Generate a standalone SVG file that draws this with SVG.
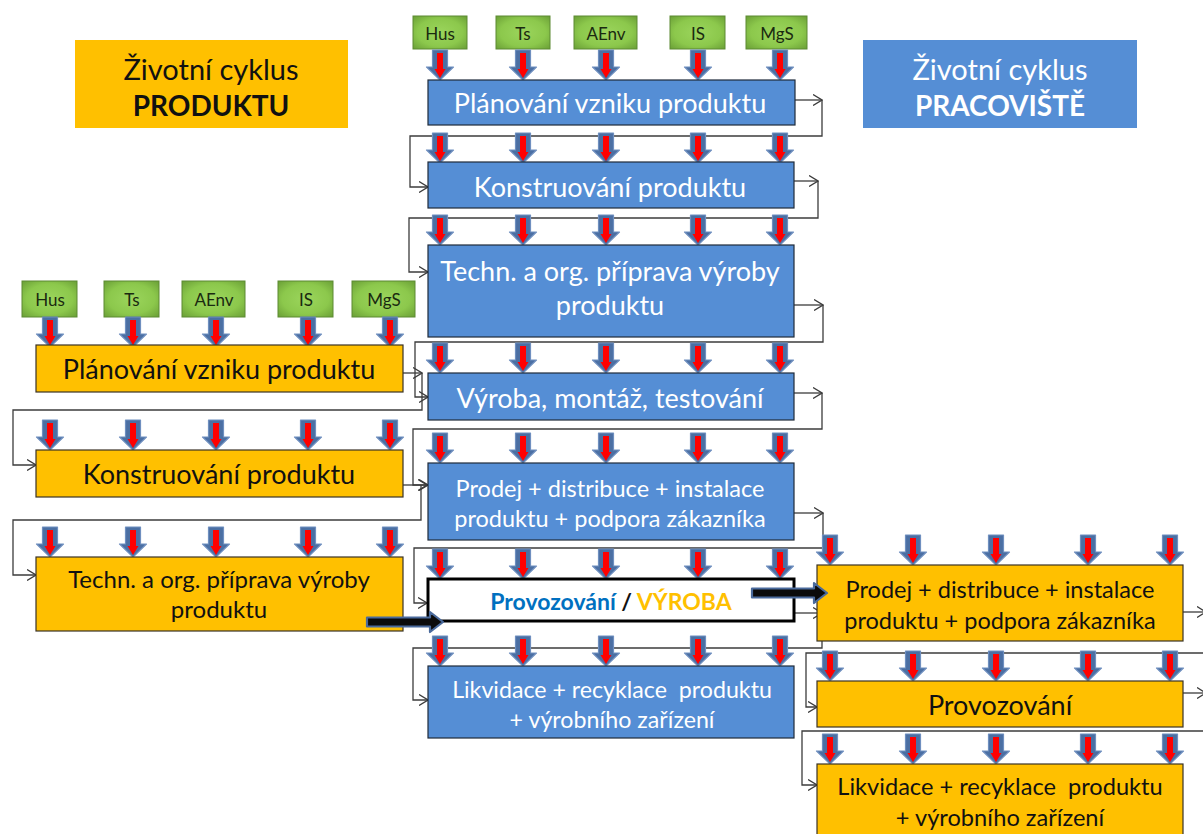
<svg xmlns="http://www.w3.org/2000/svg" width="1203" height="834" viewBox="0 0 1203 834">
  <defs>
    <style>
      .t { font-family: Lato, "Open Sans", "Liberation Sans", sans-serif; text-anchor: middle; dominant-baseline: central; }
      .w { fill: #ffffff; }
      .k { fill: #111111; }
      .blue { fill: #558ed5; stroke: #1f2a3a; stroke-width: 1.2; }
      .orange { fill: #ffc000; stroke: #3a3326; stroke-width: 1.2; }
      .title-o { fill: #ffc000; }
      .title-b { fill: #558ed5; }
      .green { fill: url(#gGreen); stroke: #5d8a33; stroke-width: 1; }
      .gt { font-family: Lato, "Open Sans", "Liberation Sans", sans-serif; font-size: 17px; fill: #1a2a10; text-anchor: middle; dominant-baseline: central; }
      .conn path { fill: none; stroke: #3c3c3c; stroke-width: 1.3; }
      .thick { fill: #0b0b0b; stroke: #4a6a9c; stroke-width: 2.2; stroke-linejoin: round; }
    </style>
    <radialGradient id="gGreen" cx="50%" cy="50%" r="70%">
      <stop offset="0%" stop-color="#9bd55c"/>
      <stop offset="60%" stop-color="#8cc84c"/>
      <stop offset="100%" stop-color="#6a9f36"/>
    </radialGradient>
    <marker id="chev" viewBox="0 0 10 12" markerWidth="10" markerHeight="12" refX="9.5" refY="6" orient="auto" markerUnits="userSpaceOnUse">
      <path d="M0.5,0.5 L9.5,6 L0.5,11.5" fill="none" stroke="#3c3c3c" stroke-width="1.3"/>
    </marker>
    <!-- input arrow: blue block arrow with a red core, origin at top centre -->
    <g id="ba">
      <path d="M-7.5,0 H7.5 V17 H13.5 L0,30 L-13.5,17 H-7.5 Z" fill="#4b6fa3" stroke="#6f8fbf" stroke-width="1.2" stroke-linejoin="round"/>
      <path d="M-3,3 H3 V19 H5.5 L0,28 L-5.5,19 H-3 Z" fill="#ff0000"/>
    </g>
    <g id="row">
      <use href="#ba" x="0" y="0"/>
      <use href="#ba" x="83" y="0"/>
      <use href="#ba" x="166" y="0"/>
      <use href="#ba" x="258" y="0"/>
      <use href="#ba" x="340" y="0"/>
    </g>
  </defs>

  <rect width="1203" height="834" fill="#ffffff"/>

  <!-- title boxes -->
  <g id="title-produkt">
    <rect class="title-o" x="75" y="40" width="273" height="88"/>
    <text class="t k" x="211" y="68" font-size="29">Životní cyklus</text>
    <text class="t k" x="211" y="105" font-size="28" font-weight="bold">PRODUKTU</text>
  </g>
  <g id="title-pracoviste">
    <rect class="title-b" x="863" y="40" width="274" height="88"/>
    <text class="t w" x="1000" y="68" font-size="29">Životní cyklus</text>
    <text class="t w" x="1000" y="105" font-size="28" font-weight="bold">PRACOVIŠTĚ</text>
  </g>

  <!-- connectors -->
  <g id="connectors" class="conn">
    <!-- middle column -->
    <path d="M795,100 H822" marker-end="url(#chev)"/>
    <path d="M822,100 V136 H410 V187 H428" marker-end="url(#chev)"/>
    <path d="M794,181 H818" marker-end="url(#chev)"/>
    <path d="M818,181 V218 H409 V272 H428" marker-end="url(#chev)"/>
    <path d="M794,305 H823" marker-end="url(#chev)"/>
    <path d="M823,305 V342 H415 V397 H428" marker-end="url(#chev)"/>
    <path d="M794,393 H822" marker-end="url(#chev)"/>
    <path d="M822,393 V429 H413 V485 H428" marker-end="url(#chev)"/>
    <path d="M794,513 H823" marker-end="url(#chev)"/>
    <path d="M823,513 V548 H414 V603 H427" marker-end="url(#chev)"/>
    <path d="M795,613 H822" marker-end="url(#chev)"/>
    <path d="M822,613 V648 H413 V700 H428" marker-end="url(#chev)"/>
    <!-- left column -->
    <path d="M395,373 H422" marker-end="url(#chev)"/>
    <path d="M422,373 V410 H13 V465 H36" marker-end="url(#chev)"/>
    <path d="M397,485 H427" marker-end="url(#chev)"/>
    <path d="M421,485 V520 H13 V575 H36" marker-end="url(#chev)"/>
    <!-- right column -->
    <path d="M1183,612 H1206" marker-end="url(#chev)"/>
    <path d="M1203,653 H806 V707 H817" marker-end="url(#chev)"/>
    <path d="M1183,693 H1206" marker-end="url(#chev)"/>
    <path d="M1203,731 H802 V785 H817" marker-end="url(#chev)"/>
  </g>

  <!-- influence factors, middle column -->
  <g id="factors-mid">
    <rect class="green" x="413" y="16" width="54" height="33"/>
    <text class="gt" x="440" y="33">Hus</text>
    <rect class="green" x="496" y="16" width="54" height="33"/>
    <text class="gt" x="523" y="33">Ts</text>
    <rect class="green" x="574" y="16" width="63" height="33"/>
    <text class="gt" x="606" y="33">AEnv</text>
    <rect class="green" x="670" y="16" width="55" height="33"/>
    <text class="gt" x="698" y="33">IS</text>
    <rect class="green" x="746" y="16" width="61" height="33"/>
    <text class="gt" x="777" y="33">MgS</text>
  </g>

  <!-- influence factors, left column -->
  <g id="factors-left">
    <rect class="green" x="22" y="281" width="55" height="36"/>
    <text class="gt" x="50" y="299">Hus</text>
    <rect class="green" x="104" y="281" width="55" height="36"/>
    <text class="gt" x="132" y="299">Ts</text>
    <rect class="green" x="182" y="281" width="63" height="36"/>
    <text class="gt" x="214" y="299">AEnv</text>
    <rect class="green" x="278" y="281" width="55" height="36"/>
    <text class="gt" x="306" y="299">IS</text>
    <rect class="green" x="352" y="281" width="63" height="36"/>
    <text class="gt" x="384" y="299">MgS</text>
  </g>

  <!-- input arrows -->
  <g id="input-arrows">
    <use href="#row" x="440" y="50"/>
    <use href="#row" x="440" y="133"/>
    <use href="#row" x="440" y="215"/>
    <use href="#row" x="440" y="343"/>
    <use href="#row" x="440" y="433"/>
    <use href="#row" x="440" y="549"/>
    <use href="#row" x="440" y="636"/>
    <use href="#row" x="50" y="317"/>
    <use href="#row" x="50" y="420"/>
    <use href="#row" x="50" y="527"/>
    <use href="#row" x="830" y="535"/>
    <use href="#row" x="830" y="651"/>
    <use href="#row" x="830" y="734"/>
  </g>

  <!-- middle column (product life cycle stages) -->
  <g id="m1">
    <rect class="blue" x="428" y="80" width="367" height="45"/>
    <text class="t w" x="610" y="102" font-size="27">Plánování vzniku produktu</text>
  </g>
  <g id="m2">
    <rect class="blue" x="428" y="162" width="366" height="46"/>
    <text class="t w" x="610" y="186" font-size="27">Konstruování produktu</text>
  </g>
  <g id="m3">
    <rect class="blue" x="428" y="245" width="366" height="92"/>
    <text class="t w" x="610" y="270" font-size="27">Techn. a org. příprava výroby</text>
    <text class="t w" x="610" y="304" font-size="27">produktu</text>
  </g>
  <g id="m4">
    <rect class="blue" x="428" y="373" width="366" height="47"/>
    <text class="t w" x="610" y="397" font-size="27">Výroba, montáž, testování</text>
  </g>
  <g id="m5">
    <rect class="blue" x="428" y="463" width="366" height="77"/>
    <text class="t w" x="610" y="488" font-size="23.5">Prodej + distribuce + instalace</text>
    <text class="t w" x="610" y="518" font-size="23.5">produktu + podpora zákazníka</text>
  </g>
  <g id="m6">
    <rect x="428" y="579" width="366" height="42" fill="#ffffff" stroke="#000000" stroke-width="3"/>
    <text class="t" x="611" y="601" font-size="23" font-weight="bold"><tspan fill="#0070c0">Provozování</tspan><tspan fill="#111111"> / </tspan><tspan fill="#ffc000">VÝROBA</tspan></text>
  </g>
  <g id="m7">
    <rect class="blue" x="428" y="666" width="366" height="72"/>
    <text class="t w" x="612" y="689" font-size="23.2" xml:space="preserve">Likvidace + recyklace  produktu</text>
    <text class="t w" x="612" y="719" font-size="23.2">+ výrobního zařízení</text>
  </g>

  <!-- left column -->
  <g id="l1">
    <rect class="orange" x="36" y="345" width="367" height="47"/>
    <text class="t k" x="219" y="368" font-size="27">Plánování vzniku produktu</text>
  </g>
  <g id="l2">
    <rect class="orange" x="36" y="450" width="367" height="47"/>
    <text class="t k" x="219" y="473" font-size="27">Konstruování produktu</text>
  </g>
  <g id="l3">
    <rect class="orange" x="36" y="557" width="367" height="74"/>
    <text class="t k" x="219" y="578" font-size="24">Techn. a org. příprava výroby</text>
    <text class="t k" x="219" y="608" font-size="24">produktu</text>
  </g>

  <!-- right column (workplace life cycle stages) -->
  <g id="r1">
    <rect class="orange" x="817" y="565" width="366" height="76"/>
    <text class="t k" x="1000" y="589" font-size="23.5">Prodej + distribuce + instalace</text>
    <text class="t k" x="1000" y="620" font-size="23.5">produktu + podpora zákazníka</text>
  </g>
  <g id="r2">
    <rect class="orange" x="817" y="681" width="366" height="46"/>
    <text class="t k" x="1000" y="704" font-size="27">Provozování</text>
  </g>
  <g id="r3">
    <rect class="orange" x="817" y="764" width="366" height="80"/>
    <text class="t k" x="1000" y="786" font-size="23.6" xml:space="preserve">Likvidace + recyklace  produktu</text>
    <text class="t k" x="1000" y="817" font-size="23.6">+ výrobního zařízení</text>
  </g>

  <!-- transfer arrows -->
  <g id="transfer">
    <path class="thick" d="M367,617.5 H430 V612 L443,622 L430,632 V626.5 H367 Z"/>
    <path class="thick" d="M752,588.5 H814 V583 L827,593 L814,603 V597.5 H752 Z"/>
  </g>
</svg>
